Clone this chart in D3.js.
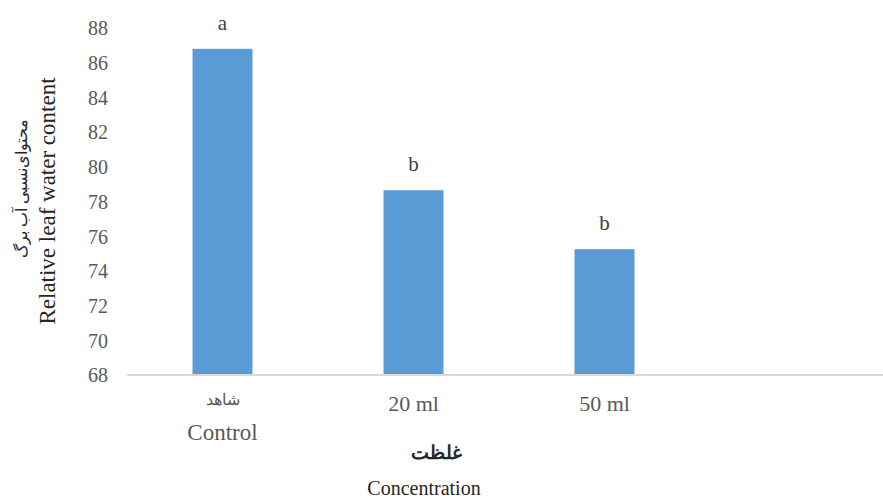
<!DOCTYPE html>
<html><head><meta charset="utf-8">
<script src="https://cdn.jsdelivr.net/npm/d3@7"></script>
<style>
html,body{margin:0;padding:0;background:#fff;}
svg{display:block;}
text{font-family:"Liberation Serif","Times New Roman",serif;}
</style></head>
<body><svg id="c" width="883" height="499"></svg>
<script>
const categories = ["Control", "20 ml", "50 ml", ""];
const categoriesFa = ["شاهد", "", "", ""];
const values = [86.8, 78.65, 75.25, null];
const letters = ["a", "b", "b", ""];
const yTicks = [68,70,72,74,76,78,80,82,84,86,88];

(function(){
const svg = d3.select("#c");
const FONT = "Liberation Serif, Times New Roman, serif";
const mLeft = 127, mRight = 891, mTop = 28, mBottom = 375;
const x = d3.scaleBand().domain(categories.map((d,i)=>i)).range([mLeft,mRight]).paddingInner(0.686).paddingOuter(0.343);
const y = d3.scaleLinear().domain([68,88]).range([mBottom, mTop]);
const grey = "#595959";

const yAxis = d3.axisLeft(y).tickValues(yTicks).tickSize(0).tickPadding(0);
const gy = svg.append("g").attr("transform", `translate(108,0)`).call(yAxis)
  .attr("font-family", FONT).attr("font-size", 20);
gy.select(".domain").remove();
gy.selectAll("text").attr("fill", grey).attr("dy","0.34em");

const data = values.map((v,i)=>({i,v,l:letters[i]})).filter(d=>d.v!=null);
svg.append("g").selectAll("rect").data(data).join("rect")
  .attr("x", d=>x(d.i)).attr("width", x.bandwidth())
  .attr("y", d=>y(d.v)).attr("height", d=>y(68)-y(d.v))
  .attr("fill", "#5b9bd5");

svg.append("g").selectAll("text").data(data).join("text")
  .attr("x", d=>x(d.i)+x.bandwidth()/2).attr("y", d=>y(d.v)-19)
  .attr("text-anchor","middle").attr("fill","#404040")
  .attr("font-family", FONT).attr("font-size", 21)
  .text(d=>d.l);

const xAxis = d3.axisBottom(x).tickSize(0).tickFormat(()=> "");
const gx = svg.append("g").attr("transform", `translate(0,${mBottom})`).call(xAxis);
gx.select(".domain").attr("stroke","#d9d9d9").attr("stroke-width",2.2).attr("d", `M${mLeft},0H883`);
gx.selectAll(".tick text").remove();

categories.forEach((c,i)=>{
  const cx = x(i)+x.bandwidth()/2;
  if (categoriesFa[i]) {
    svg.append("text").attr("x",cx).attr("y",405).attr("text-anchor","middle").attr("fill",grey)
      .attr("font-size",16).text(categoriesFa[i]);
    svg.append("text").attr("x",cx).attr("y",440).attr("text-anchor","middle").attr("fill",grey)
      .attr("font-family", FONT).attr("font-size",23).text(c);
  } else if (c) {
    svg.append("text").attr("x",cx).attr("y",411).attr("text-anchor","middle").attr("fill",grey)
      .attr("font-family", FONT).attr("font-size",22).text(c);
  }
});

svg.append("text").attr("x",436).attr("y",459).attr("text-anchor","middle").attr("fill","#262626")
  .attr("font-size",19).attr("font-weight","bold").text("غلظت");
svg.append("text").attr("x",424).attr("y",495).attr("text-anchor","middle").attr("fill","#262626")
  .attr("font-family", FONT).attr("font-size",20).text("Concentration");

const yt = svg.append("g").attr("transform","translate(0,0) rotate(-90)");
yt.append("text").attr("x",-188).attr("y",27).attr("text-anchor","middle").attr("fill","#262626")
  .attr("font-size",16).text("محتوای‌نسبی آب برگ");
yt.append("text").attr("x",-201).attr("y",55).attr("text-anchor","middle").attr("fill","#262626")
  .attr("font-family", FONT).attr("font-size",23).text("Relative leaf water content");
})();
</script></body></html>
